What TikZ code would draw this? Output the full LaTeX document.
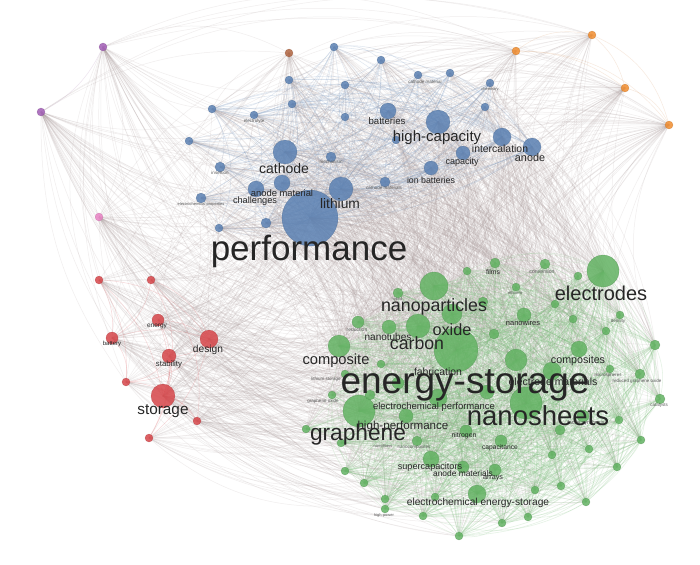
\documentclass[tikz,border=0pt]{standalone}
\usepackage{fontspec}
\setmainfont{Liberation Sans}
\definecolor{cb}{RGB}{90,128,178}
\definecolor{cg}{RGB}{98,178,98}
\definecolor{cr}{RGB}{214,69,73}
\definecolor{co}{RGB}{240,140,46}
\definecolor{cp}{RGB}{160,92,180}
\definecolor{ck}{RGB}{232,130,196}
\definecolor{cn}{RGB}{176,100,64}
\definecolor{cx}{RGB}{175,160,160}
\newcount\hA \newcount\hB \newcount\hT
\def\modp{\hB=\hA \divide\hB by 1009 \multiply\hB by 1009 \advance\hA by -\hB}
\tikzset{
  dot/.style={circle, inner sep=0pt, fill=#1, fill opacity=.85, draw=#1!75!black, draw opacity=.5, line width=.3pt},
  edgeb/.style={draw=cb!75!white, opacity=.24, line width=.55pt},
  edgeg/.style={draw=cg!85!white, opacity=.2, line width=.55pt},
  edger/.style={draw=cr!80!white, opacity=.24, line width=.55pt},
  edgeo/.style={draw=co!60!cx, opacity=.2, line width=.5pt},
  edgep/.style={draw=cp!60!cx, opacity=.2, line width=.5pt},
  edgek/.style={draw=ck!60!cx, opacity=.2, line width=.5pt},
  edgen/.style={draw=cn!60!cx, opacity=.2, line width=.5pt},
  edgex/.style={draw=cx, opacity=.18, line width=.5pt},
  lbl/.style={inner sep=0pt, text=black!85},
  tiny/.style={inner sep=0pt, text=black!65},
}
\begin{document}
\begin{tikzpicture}[x=1pt,y=-1pt]
\useasboundingbox[fill=white] (0,0) rectangle (700,564);
\foreach \k/\px/\py/\rad/\cl/\w in {
1/334/47/4/b/4, 2/381/60/4/b/4, 3/418/75/4/b/4, 4/450/73/4/b/4, 5/490/83/4/b/4,
6/289/80/4/b/4, 7/345/85/4/b/4, 8/292/104/4/b/4, 9/212/109/4/b/4, 10/254/115/4/b/4,
11/345/117/4/b/4, 12/388/111/8/b/8, 13/438/122/12/b/12, 14/485/107/4/b/4, 15/502/137/9/b/9,
16/532/147/9/b/9, 17/463/153/7/b/7, 18/431/168/7/b/7, 19/189/141/4/b/4, 20/285/152/12/b/12,
21/331/157/5/b/5, 22/220/167/5/b/5, 23/282/183/8/b/8, 24/256/189/8/b/8, 25/341/189/12/b/12,
26/385/182/5/b/5, 27/201/198/5/b/5, 28/310/218/28/b/40, 29/219/228/4/b/4, 30/266/223/5/b/5,
31/396/140/4/b/4,
32/495/263/5/g/5, 33/545/264/5/g/5, 34/467/271/4/g/4, 35/578/276/4/g/4, 36/603/271/16/g/20,
37/434/286/14/g/14, 38/398/293/5/g/5, 39/483/302/5/g/5, 40/516/287/4/g/4, 41/555/304/4/g/4,
42/573/319/4/g/4, 43/524/315/7/g/7, 44/452/314/10/g/10, 45/620/315/4/g/4, 46/418/326/12/g/12,
47/389/327/7/g/7, 48/358/322/6/g/6, 49/456/350/22/g/35, 50/494/334/5/g/5, 51/606/331/4/g/4,
52/655/345/5/g/5, 53/339/346/11/g/11, 54/516/360/11/g/11, 55/579/349/8/g/8, 56/552/371/9/g/9,
57/610/369/4/g/4, 58/640/374/5/g/5, 59/381/364/4/g/4, 60/345/374/4/g/4, 61/660/399/5/g/5,
62/359/411/16/g/22, 63/526/403/16/g/22, 64/406/416/7/g/7, 65/466/431/6/g/6, 66/583/416/6/g/6,
67/619/420/4/g/4, 68/641/440/4/g/4, 69/306/429/4/g/4, 70/341/443/4/g/4, 71/417/441/5/g/5,
72/501/441/6/g/6, 73/552/455/4/g/4, 74/589/449/4/g/4, 75/431/459/8/g/8, 76/463/467/6/g/6,
77/495/470/6/g/6, 78/617/467/4/g/4, 79/345/471/4/g/4, 80/364/483/4/g/4, 81/477/494/9/g/9,
82/535/490/4/g/4, 83/561/486/4/g/4, 84/385/499/4/g/4, 85/435/497/4/g/4, 86/586/502/4/g/4,
87/385/509/4/g/4, 88/423/516/4/g/4, 89/502/523/4/g/4, 90/528/517/4/g/4, 91/459/536/4/g/4,
92/332/395/4/g/4, 93/438/398/9/g/9, 94/370/395/5/g/5, 95/398/383/6/g/6, 96/487/392/7/g/7,
97/560/430/5/g/5,
98/99/280/4/r/4, 99/151/280/4/r/4, 100/158/320/6/r/6, 101/112/338/6/r/6, 102/209/339/9/r/9,
103/169/356/7/r/7, 104/126/382/4/r/4, 105/163/396/12/r/12, 106/197/421/4/r/4, 107/149/438/4/r/4,
108/103/47/4/p/10, 109/41/112/4/p/10, 110/99/217/4/k/8,
111/516/51/4/o/10, 112/592/35/4/o/10, 113/625/88/4/o/10, 114/669/125/4/o/10,
115/289/53/4/n/6}
{
  \coordinate (N\k) at (\px,\py);
  \expandafter\xdef\csname cl\k\endcsname{\cl}
  \expandafter\xdef\csname wt\k\endcsname{\w}
  \expandafter\xdef\csname rd\k\endcsname{\rad}
}
% connectors
\foreach \i in {1,...,114}{
  \pgfmathtruncatemacro\js{\i+1}
  \foreach \j in {\js,...,115}{
    \hA=\numexpr \i*7919+\j*3571+\i*\j*131\relax \modp
    \hA=\numexpr \hA*\hA+\j*7+\i*3+\i*\j\relax \modp
    \edef\ci{\csname cl\i\endcsname}\edef\cj{\csname cl\j\endcsname}
    \ifx\ci\cj
      \hT=\numexpr(\csname wt\i\endcsname+\csname wt\j\endcsname)*45\relax
      \edef\est{edge\ci}
    \else
      \hT=\numexpr(\csname wt\i\endcsname+\csname wt\j\endcsname)*26\relax
      \edef\est{edgex}
    \fi
    \ifnum\hA<\hT
      \ifodd\hA \def\bnd{18}\else\def\bnd{26}\fi
      \expandafter\draw\expandafter[\est] (N\i) to[bend left=\bnd] (N\j);
    \fi
  }
}
% circles
\foreach \k in {1,...,115}{
  \edef\ci{\csname cl\k\endcsname}\edef\rr{\csname rd\k\endcsname}
  \node[dot=c\ci, minimum size=2*\rr pt] (C\k) at (N\k) {};
}
% small labels
\foreach \k/\px/\py/\fs/\txt in {
1/254/121/4.5/electrolyte, 2/220/173/4.5/insertion, 3/331/162/4.5/mechanism,
4/425/82/4.5/cathode material, 5/490/89/4/chemistry, 6/384/188/4.5/cathode materials,
7/201/204/4/electrochemical properties, 8/397/299/4/hybrid, 9/357/330/5/reduction,
10/515/293/4/efficient, 11/618/321/4.5/density, 12/608/375/4.5/microspheres,
13/637/381/4.5/reduced graphene oxide, 14/659/405/4.5/catalysts, 15/326/379/4.5/lithium storage,
16/323/401/4.5/graphene oxide, 17/383/446/4/nanofibers, 18/414/447/4.5/nanocomposites,
19/384/515/4/high-power, 20/586/423/5.5/facile synthesis, 21/542/272/5.2/conversion}
{ \node[tiny, font=\fontsize{\fs}{\fs}\selectfont] (T\k) at (\px,\py) {\txt}; }
% main labels
\foreach \k/\px/\py/\fs/\txt in {
1/309/251/35/performance, 2/538/416/27.5/nanosheets, 3/358/435/22.7/graphene,
4/601/293/20/electrodes, 5/434/307/17.8/nanoparticles, 6/452/330/16.3/oxide,
7/417/343/17.7/carbon, 8/336/361/14.7/composite, 9/578/361/10.7/composites,
10/553/382/10.5/electrode materials, 11/437/138/15/high-capacity, 12/284/168/14/cathode,
13/340/204/13.8/lithium, 14/163/411/15.3/storage, 15/208/350/10.2/design,
16/500/149/10.4/intercalation, 17/530/158/10.8/anode, 18/387/121/9.6/batteries,
19/462/162/9/capacity, 20/431/180/8.8/ion batteries, 21/282/193/9.4/anode material,
22/255/201/9.2/challenges, 23/169/364/7.8/stability, 24/438/372/10.4/fabrication,
25/388/337/10/nanotubes, 26/434/407/9.5/electrochemical performance,
27/403/426/11.6/high-performance, 28/430/467/9.1/supercapacitors,
29/478/503/10.2/electrochemical energy-storage, 30/463/473/8.4/anode materials,
31/493/478/7.2/arrays, 32/500/448/6.7/capacitance, 33/464/436/6.9/nitrogen,
34/493/272/6.8/films, 35/523/323/7.5/nanowires, 36/157/326/6.5/energy, 37/112/344/6/battery}
{ \node[lbl, font=\fontsize{\fs}{\fs}\selectfont] (L\k) at (\px,\py) {\txt}; }
\node[lbl, font=\fontsize{37}{37}\selectfont] (L38) at (465,385) {energy-storage};
\end{tikzpicture}
\end{document}
